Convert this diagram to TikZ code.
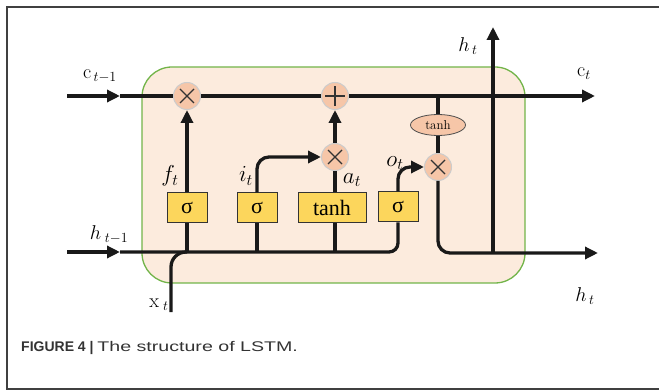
\RequirePackage{fix-cm}
\documentclass[tikz,border=0pt]{standalone}
\usepackage{fontspec}
\usepackage{graphicx}
\newfontfamily\capfont{Liberation Sans}
\newfontfamily\gatefont{Liberation Serif}
\usetikzlibrary{positioning, shapes.geometric, arrows.meta}
\definecolor{cellfill}{HTML}{FCEBDD}
\definecolor{cellline}{HTML}{72B449}
\definecolor{gatefill}{HTML}{FCD65C}
\definecolor{opfill}{HTML}{F6C6A8}
\definecolor{capgray}{HTML}{333333}
\tikzstyle{cell} = [draw=cellline, fill=cellfill, line width=1.3pt, rounded corners=30pt]
\tikzstyle{gate} = [rectangle, minimum width=40pt, minimum height=30pt, inner sep=0pt, text centered, draw=black!80, line width=1pt, fill=gatefill, font=\gatefont\fontsize{22}{24}\selectfont]
\tikzstyle{op} = [circle, minimum size=27pt, inner sep=0pt, draw=black!20, line width=1pt, fill=opfill]
\tikzstyle{mul} = [op, path picture={
        \draw[black!80, line width=1.1pt] ([shift={(-7pt,-7pt)}]path picture bounding box.center) -- ([shift={(7pt,7pt)}]path picture bounding box.center);
        \draw[black!80, line width=1.1pt] ([shift={(-7pt,7pt)}]path picture bounding box.center) -- ([shift={(7pt,-7pt)}]path picture bounding box.center);}]
\tikzstyle{sum} = [op, path picture={
        \draw[black!80, line width=1.1pt] ([xshift=-10pt]path picture bounding box.center) -- ([xshift=10pt]path picture bounding box.center);
        \draw[black!80, line width=1.1pt] ([yshift=-10pt]path picture bounding box.center) -- ([yshift=10pt]path picture bounding box.center);}]
\tikzstyle{squash} = [ellipse, minimum width=55pt, minimum height=21pt, inner sep=0pt, draw=black!70, line width=0.8pt, fill=opfill, font=\fontsize{13}{14}\selectfont]
\tikzstyle{wire} = [line width=3.3pt, black!90]
\tikzstyle{arrow} = [wire, -{Triangle[length=13pt,width=12pt]}]
\tikzstyle{lbl} = [inner sep=0pt, font=\fontsize{23}{25}\selectfont]
\tikzstyle{statelbl} = [inner sep=0pt, font=\fontsize{20}{22}\selectfont]

\begin{document}
\begin{tikzpicture}[x=1pt, y=-1pt]
        \useasboundingbox (0,0) rectangle (659,390);
        \clip (0,0) rectangle (659,390);
        \draw[black!75, line width=1.8pt] (680,7) -- (7,7) -- (7,389) -- (680,389);

        % LSTM cell
        \draw[cell] (142,67) rectangle (525,283);

        \node[mul]                        (forget)  at (187,96)  {};
        \node[sum]                        (add)     at (335,96)  {};
        \node[mul]                        (inmul)   at (335,157) {};
        \node[mul]                        (outmul)  at (438,167) {};
        \node[squash]                     (ctanh)   at (438,125) {tanh};
        \node[gate]                       (fgate)   at (187,208) {σ};
        \node[gate]                       (igate)   at (257,208) {σ};
        \node[gate, minimum width=68pt]   (cand)    at (332,208) {tanh};
        \node[gate]                       (ogate)   at (398,207) {σ};

        % labels
        \node[statelbl] (lc0) at (100,76)  {$\mathrm{c}_{\,t-1}$};
        \node[statelbl] (lh0) at (109,235) {$h_{\;t-1}$};
        \node[statelbl] (lx)  at (159,305) {$\mathrm{x}_{\;t}$};
        \node[lbl]      (lf)  at (170,176) {$f_t$};
        \node[lbl]      (li)  at (246,176) {$i_t$};
        \node[lbl]      (la)  at (352,180) {$a_t$};
        \node[lbl]      (lo)  at (395,163) {$o_t$};
        \node[statelbl] (lh1) at (468,46)  {$h_{\,t}$};
        \node[statelbl] (lc1) at (584,74)  {$\mathrm{c}_t$};
        \node[statelbl] (lh2) at (585,296) {$h_{\,t}$};

        \coordinate (cin)    at (67,96);
        \coordinate (cmid)   at (120,96);
        \coordinate (cout)   at (595,96);
        \coordinate (hin)    at (67,252);
        \coordinate (hmid)   at (120,252);
        \coordinate (xin)    at (171,312);
        \coordinate (hsplit) at (493,253);
        \coordinate (hup)    at (493,27);
        \coordinate (hout)   at (598,253);

        % cell state
        \draw[arrow] (cin) -- (cmid);
        \draw[wire]  (cmid) -- (forget);
        \draw[wire]  (forget) -- (add);
        \draw[arrow] (add) -- (cout);

        % hidden state and input
        \draw[arrow] (hin) -- (hmid);
        \draw[wire, rounded corners=9pt] (hmid) -| (ogate);
        \draw[wire, rounded corners=15pt] (xin) |- (fgate |- hmid);
        \draw[wire] (fgate |- hmid) -- (fgate);
        \draw[wire] (igate |- hmid) -- (igate);
        \draw[wire] (add |- hmid) -- (add |- cand.south);

        % gates
        \draw[arrow] (fgate) -- (forget);
        \draw[arrow, rounded corners=12pt] (igate) |- (inmul);
        \draw[wire]  (add |- cand.north) -- (inmul);
        \draw[arrow] (inmul) -- (add);
        \draw[arrow, rounded corners=12pt] (ogate) |- (outmul);

        % output
        \draw[wire]  (ctanh |- cout) -- (ctanh);
        \draw[wire]  (ctanh) -- (outmul);
        \draw[arrow, rounded corners=12pt] (outmul) |- (hout);
        \draw[arrow] (hsplit) -- (hup);

        \node[anchor=base west, inner sep=0pt, text=capgray, font=\capfont\fontsize{14}{16}\selectfont] (caption) at (21,352) {\textbf{FIGURE 4 |} \scalebox{1.4}[1]{The structure of LSTM.}};
    \end{tikzpicture}
\end{document}
